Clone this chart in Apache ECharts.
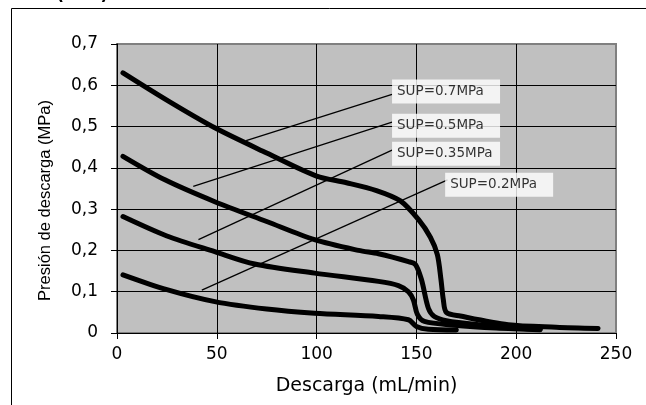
<!DOCTYPE html>
<html>
<head>
<meta charset="utf-8">
<script src="https://cdn.jsdelivr.net/npm/echarts@6/dist/echarts.min.js"></script>
<style>
  html, body { margin: 0; padding: 0; background: #fff; }
  #main { width: 646px; height: 405px; }
</style>
</head>
<body>
<div id="main"></div>
<script>
// curvas: [descarga mL/min, presion MPa]
var sup07 = [[3,0.63],[26,0.561],[49,0.497],[75,0.436],[100,0.38],[115,0.364],[130,0.345],[142,0.32],[151,0.275],[157,0.232],[160.5,0.19],[162.3,0.13],[163.5,0.08],[165,0.05],[172,0.041],[196,0.02],[220,0.014],[241,0.011]];
var sup05 = [[3,0.428],[24,0.371],[49,0.318],[75,0.27],[99,0.226],[121,0.2],[131,0.192],[146,0.173],[149.5,0.166],[152.5,0.13],[156,0.06],[159,0.04],[165,0.03],[181,0.02],[200,0.012],[212,0.009]];
var sup035 = [[3,0.282],[25,0.235],[49,0.197],[69,0.167],[99,0.145],[131,0.125],[141,0.115],[146,0.1],[148.5,0.08],[150.5,0.045],[154,0.028],[169,0.019],[190,0.012],[212,0.008]];
var sup02 = [[3,0.141],[25,0.105],[49,0.076],[75,0.058],[99,0.048],[131,0.04],[146,0.032],[150,0.016],[156,0.009],[170,0.007]];

// etiquetas y lineas de llamada
var etiquetas = ['SUP=0.7MPa', 'SUP=0.5MPa', 'SUP=0.35MPa', 'SUP=0.2MPa'];
var cajas = [[137.8,0.585],[137.8,0.502],[137.8,0.434],[164.4,0.359]];
var llamadas = [
  [[64.7,0.466],[137.8,0.578]],
  [[38.2,0.355],[137.8,0.511]],
  [[40.8,0.226],[137.8,0.443]],
  [[42.5,0.104],[165.6,0.371]]
];

var xTicks = [0, 50, 100, 150, 200, 250];
var yMax = 0.7;

var font = 'DejaVu Sans, sans-serif';
var fontY = 'Liberation Sans, Arial, sans-serif';
var chart = echarts.init(document.getElementById('main'));

var series = [];
[sup07, sup05, sup035, sup02].forEach(function (d) {
  series.push({
    type: 'line',
    data: d,
    smooth: 0.3,
    showSymbol: false,
    symbol: 'none',
    silent: true,
    lineStyle: { color: '#000', width: 5, cap: 'round', join: 'round' },
    z: 3
  });
});
llamadas.forEach(function (d) {
  series.push({
    type: 'line',
    data: d,
    symbol: 'none',
    silent: true,
    lineStyle: { color: '#000', width: 1.3 },
    z: 4
  });
});
series.push({
  type: 'scatter',
  symbolSize: 0,
  silent: true,
  z: 5,
  data: cajas.map(function (c, i) { return { value: c, name: etiquetas[i] }; }),
  label: {
    show: true,
    position: 'right',
    distance: 0,
    formatter: '{b}',
    color: '#000',
    fontFamily: font,
    fontSize: 13.5,
    lineHeight: 14,
    backgroundColor: '#fff',
    width: 97,
    padding: [5, 6, 5, 5]
  }
});

var option = {
  animation: false,
  graphic: [
    { type: 'rect', left: 9, top: 6, shape: { width: 700, height: 500 }, style: { fill: 'none', stroke: '#000', lineWidth: 1 }, z: -10 },
    { type: 'text', left: 2, top: -13, style: { text: '3.3.3 (PTZ)', font: 'bold 17px ' + font, fill: '#000' } }
  ],
  grid: {
    left: 117, right: 30, top: 44, bottom: 72,
    show: true, backgroundColor: '#c0c0c0', borderColor: '#808080', borderWidth: 2
  },
  xAxis: {
    type: 'value', min: 0, max: 250, interval: 50,
    name: 'Descarga (mL/min)', nameLocation: 'middle', nameGap: 44,
    nameTextStyle: { fontFamily: font, fontSize: 19, color: '#000' },
    axisLine: { show: true, onZero: false, lineStyle: { color: '#000', width: 1 } },
    axisTick: { show: true, length: 6, lineStyle: { color: '#000' } },
    axisLabel: { fontFamily: font, fontSize: 17, color: '#000', margin: 13 },
    splitLine: { show: true, lineStyle: { color: ['#000', '#000', '#000', '#000', '#000', '#808080'], width: 1 } }
  },
  yAxis: {
    type: 'value', min: 0, max: yMax, interval: 0.1,
    name: 'Presión de descarga (MPa)', nameLocation: 'middle', nameGap: 63,
    nameTextStyle: { fontFamily: fontY, fontSize: 16.5, color: '#000', padding: [0, 24, 0, 0] },
    axisLine: { show: true, onZero: false, lineStyle: { color: '#000', width: 1 } },
    axisTick: { show: true, length: 6, lineStyle: { color: '#000' } },
    axisLabel: {
      fontFamily: font, fontSize: 17, color: '#000', margin: 19,
      formatter: function (v) { return v === 0 ? '0' : v.toFixed(1).replace('.', ','); }
    },
    splitLine: { show: true, lineStyle: { color: ['#000', '#000', '#000', '#000', '#000', '#000', '#000', '#808080'], width: 1 } }
  },
  series: series
};
chart.setOption(option);
</script>
</body>
</html>
